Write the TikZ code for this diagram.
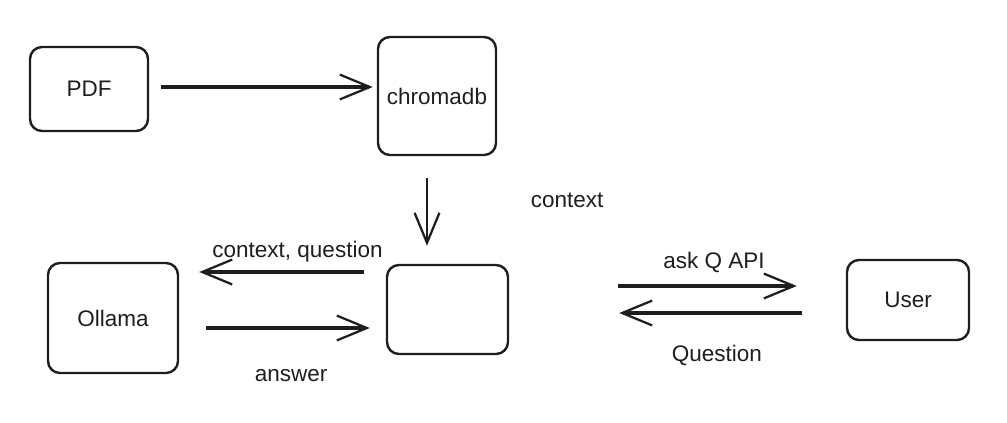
\documentclass[tikz,border=0pt]{standalone}
\usepackage{fontspec}
\setmainfont{Liberation Sans}
\usetikzlibrary{positioning, arrows.meta}
\definecolor{ink}{HTML}{1E1E1E}

\begin{document}
\begin{tikzpicture}[x=0.025cm, y=-0.025cm, color=ink,
    box/.style={draw, rounded corners=0.3cm, line width=1.7pt, font=\fontsize{16}{19}\selectfont},
    lbl/.style={anchor=center, font=\fontsize{16}{19}\selectfont},
    >={Straight Barb[length=0.75cm, width=0.62cm, line width=1.6pt]},
    every edge/.style={draw, line width=2.5pt}]
    \useasboundingbox (0,0) rectangle (1007,422);
    \node[box, minimum width=2.95cm, minimum height=2.1cm] (0) at (89,89) {PDF};
    \node[box, minimum width=2.95cm, minimum height=2.95cm] (1) at (437,96) {chromadb};
    \node[box, minimum width=3.025cm, minimum height=2.225cm] (2) at (447.5,309.5) {};
    \node[box, minimum width=3.25cm, minimum height=2.75cm] (3) at (113,318) {Ollama};
    \node[box, minimum width=3.05cm, minimum height=2cm] (4) at (908,300) {User};
    \path[->]
    ([shift={(12,-2)}]0.east)
    edge
    ([shift={(-4,-9)}]1.west);
    \path[->]
    ([shift={(-10,22)}]1.south)
    edge[line width=1.6pt]
    node[lbl, xshift=3.5cm, yshift=0.3cm] {context} ([shift={(-20.5,-18)}]2.north);
    \path[->]
    ([shift={(-22,-37.5)}]2.west)
    edge
    node[lbl, xshift=0.4cm, yshift=0.5cm] {context, question} ([shift={(20,-46)}]3.east);
    \path[->]
    ([shift={(27,10)}]3.east)
    edge
    node[lbl, xshift=0.08cm, yshift=-1.2cm] {answer} ([shift={(-16,18.5)}]2.west);
    \path[->]
    ([shift={(109,-23.5)}]2.east)
    edge
    node[lbl, xshift=0.16cm, yshift=0.6cm] {ask Q API} ([shift={(-49,-14)}]4.west);
    \path[->]
    ([shift={(-44,13)}]4.west)
    edge
    node[lbl, xshift=0.16cm, yshift=-1.05cm] {Question} ([shift={(110,3.5)}]2.east);
\end{tikzpicture}
\end{document}
